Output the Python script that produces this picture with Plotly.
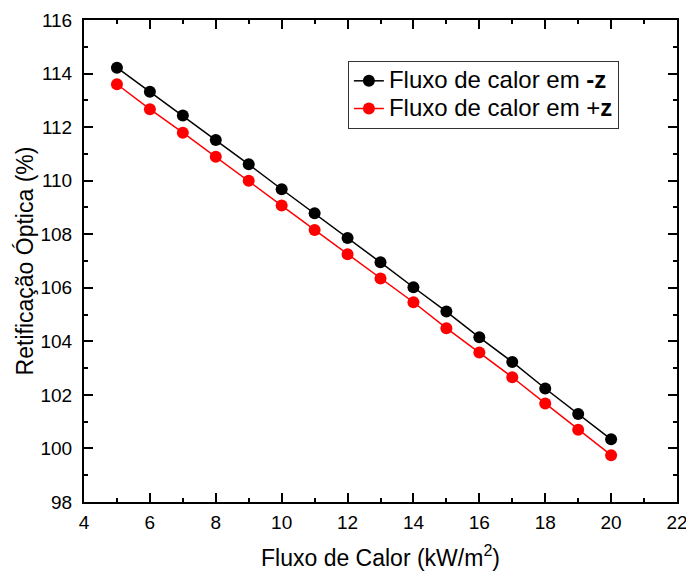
import plotly.graph_objects as go

heat_flux = [5, 6, 7, 8, 9, 10, 11, 12, 13, 14, 15, 16, 17, 18, 19, 20]
rect_minus_z = [114.22, 113.32, 112.43, 111.52, 110.61, 109.68, 108.78, 107.86,
                106.95, 106.02, 105.11, 104.15, 103.23, 102.24, 101.29, 100.34]
rect_plus_z = [113.60, 112.67, 111.79, 110.89, 110.00, 109.07, 108.16, 107.25,
               106.35, 105.46, 104.49, 103.58, 102.66, 101.68, 100.70, 99.75]

series_names = ['<span style="font-size:24px">Fluxo de calor em <b>-z</b></span>',
                '<span style="font-size:24px">Fluxo de calor em +<b>z</b></span>']
x_ticks = [4, 6, 8, 10, 12, 14, 16, 18, 20, 22]
y_ticks = [98, 100, 102, 104, 106, 108, 110, 112, 114, 116]

FONT = "Liberation Sans, Arial, sans-serif"

fig = go.Figure()
fig.add_trace(go.Scatter(x=heat_flux, y=rect_minus_z, mode="lines+markers",
                         name=series_names[0],
                         line=dict(color="black", width=1.5),
                         marker=dict(color="black", size=12)))
fig.add_trace(go.Scatter(x=heat_flux, y=rect_plus_z, mode="lines+markers",
                         name=series_names[1],
                         line=dict(color="#ff0000", width=1.5),
                         marker=dict(color="#ff0000", size=12)))

axis_common = dict(showgrid=False, zeroline=False, showline=True, linecolor="black",
                   linewidth=2, mirror="ticks", ticks="inside", ticklen=9,
                   tickwidth=1.5, tickcolor="black", automargin=False,
                   ticklabeloverflow="allow",
                   tickfont=dict(family=FONT, size=19, color="black"))

fig.update_xaxes(range=[4, 22], tickvals=x_ticks, ticklabelstandoff=2,
                 minor=dict(ticks="inside", ticklen=4, dtick=1, tickcolor="black", tickwidth=1.5),
                 title=dict(text="Fluxo de Calor (kW/m<sup>2</sup>)",
                            font=dict(family=FONT, size=23, color="black"), standoff=18),
                 **axis_common)
fig.update_yaxes(range=[98, 116], tickvals=y_ticks, ticklabelstandoff=6,
                 minor=dict(ticks="inside", ticklen=4, dtick=1, tickcolor="black", tickwidth=1.5),
                 title=dict(text="Retificação Óptica (%)",
                            font=dict(family=FONT, size=23, color="black"), standoff=0),
                 **axis_common)

fig.update_layout(
    width=686, height=571,
    margin=dict(l=84, r=9, t=20, b=69),
    paper_bgcolor="white", plot_bgcolor="white",
    font=dict(family=FONT, color="black"),
    legend=dict(x=0.445, y=0.915, xanchor="left", yanchor="top",
                bgcolor="white", bordercolor="#333333", borderwidth=1,
                font=dict(family=FONT, size=19, color="black"),
                tracegroupgap=0),
    showlegend=True,
)

fig.write_html("out.html", config={"displayModeBar": False},
               post_script="document.body.style.margin='0px';document.body.style.overflow='hidden';")
